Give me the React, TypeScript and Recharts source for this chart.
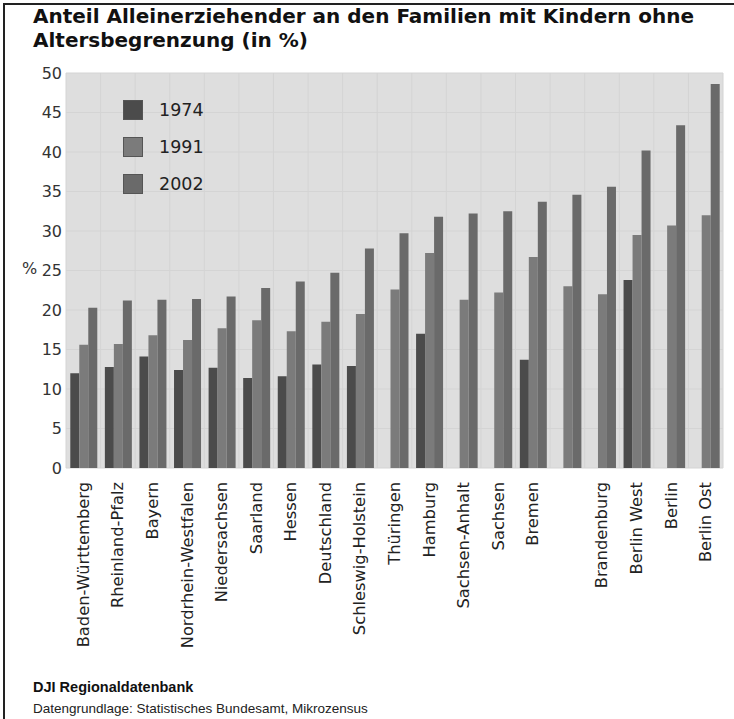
import { BarChart, Bar, XAxis, YAxis, CartesianGrid } from "recharts";

const regions = [
  "Baden-Württemberg",
  "Rheinland-Pfalz",
  "Bayern",
  "Nordrhein-Westfalen",
  "Niedersachsen",
  "Saarland",
  "Hessen",
  "Deutschland",
  "Schleswig-Holstein",
  "Thüringen",
  "Hamburg",
  "Sachsen-Anhalt",
  "Sachsen",
  "Bremen",
  "",
  "Brandenburg",
  "Berlin West",
  "Berlin",
  "Berlin Ost",
];

const v1974 = [12.0, 12.8, 14.1, 12.4, 12.7, 11.4, 11.6, 13.1, 12.9, null, 17.0, null, null, 13.7, null, null, 23.8, null, null];
const v1991 = [15.6, 15.7, 16.8, 16.2, 17.7, 18.7, 17.3, 18.5, 19.5, 22.6, 27.2, 21.3, 22.2, 26.7, 23.0, 22.0, 29.5, 30.7, 32.0];
const v2002 = [20.3, 21.2, 21.3, 21.4, 21.7, 22.8, 23.6, 24.7, 27.8, 29.7, 31.8, 32.2, 32.5, 33.7, 34.6, 35.6, 40.2, 43.4, 48.6];

const yTicks = [0, 5, 10, 15, 20, 25, 30, 35, 40, 45, 50];

const series = [
  { key: "y1974", name: "1974", color: "#4b4b4b" },
  { key: "y1991", name: "1991", color: "#7b7b7b" },
  { key: "y2002", name: "2002", color: "#6a6a6a" },
];

const data = regions.map((name, i) => ({
  name,
  y1974: v1974[i],
  y1991: v1991[i],
  y2002: v2002[i],
}));

const axisFont = "'DejaVu Sans', Verdana, sans-serif";

function RegionTick(props: any) {
  const { x, y, payload } = props;
  const ty = y + 6;
  return (
    <text
      x={x}
      y={ty}
      transform={`rotate(-90, ${x}, ${ty})`}
      textAnchor="end"
      dominantBaseline="central"
      fontFamily={axisFont}
      fontSize={16.3}
      fill="#222"
    >
      {payload.value}
    </text>
  );
}

function LegendBox() {
  return (
    <div
      style={{
        position: "absolute",
        left: 123,
        top: 91,
        fontFamily: axisFont,
        fontSize: 17.5,
        color: "#222",
      }}
    >
      {series.map((s) => (
        <div key={s.key} style={{ display: "flex", alignItems: "center", height: 37 }}>
          <div
            style={{
              width: 18,
              height: 18,
              background: s.color,
              border: "1px solid #555",
              marginRight: 16,
            }}
          />
          <span>{s.name}</span>
        </div>
      ))}
    </div>
  );
}

export default function App() {
  const n = regions.length;
  return (
    <div
      style={{
        position: "absolute",
        left: 0,
        top: 0,
        width: 734,
        height: 719,
        background: "#fff",
        overflow: "hidden",
      }}
    >
      <div style={{ position: "absolute", left: 3, top: 3, width: 731, height: 716, borderLeft: "2px solid #222", borderTop: "2px solid #222" }} />
      <div
        style={{
          position: "absolute",
          left: 33,
          top: 4,
          fontFamily: "'DejaVu Sans', Verdana, sans-serif",
          fontWeight: "bold",
          fontSize: 20,
          lineHeight: "24px",
          color: "#111",
          whiteSpace: "nowrap",
        }}
      >
        Anteil Alleinerziehender an den Familien mit Kindern ohne
        <br />
        Altersbegrenzung (in %)
      </div>
      <div
        style={{
          position: "absolute",
          left: 22,
          top: 259,
          fontFamily: axisFont,
          fontSize: 16,
          color: "#333",
        }}
      >
        %
      </div>
      <BarChart
        width={734}
        height={719}
        data={data}
        margin={{ top: 73, right: 11, left: 26, bottom: 91 }}
        barCategoryGap="12.4%"
        barGap={0}
      >
        <CartesianGrid
          fill="#dedede"
          stroke="#d4d4d4"
          verticalCoordinatesGenerator={({ offset }: any) =>
            Array.from({ length: n + 1 }, (_, i) => offset.left + (i * offset.width) / n)
          }
        />
        <XAxis
          dataKey="name"
          interval={0}
          height={160}
          tickLine={false}
          axisLine={false}
          tick={<RegionTick />}
        />
        <YAxis
          domain={[0, 50]}
          ticks={yTicks}
          width={40}
          tickLine={false}
          axisLine={false}
          tickSize={2}
          tickMargin={2}
          tick={{ fontFamily: axisFont, fontSize: 16, fill: "#333" }}
        />
        {series.map((s) => (
          <Bar key={s.key} dataKey={s.key} name={s.name} fill={s.color} isAnimationActive={false} />
        ))}
      </BarChart>
      <LegendBox />
      <div
        style={{
          position: "absolute",
          left: 33,
          top: 679,
          fontFamily: "'Liberation Sans', Arial, sans-serif",
          fontWeight: "bold",
          fontSize: 14.5,
          color: "#111",
        }}
      >
        DJI Regionaldatenbank
      </div>
      <div
        style={{
          position: "absolute",
          left: 33,
          top: 701,
          fontFamily: "'Liberation Sans', Arial, sans-serif",
          fontSize: 13.5,
          color: "#222",
        }}
      >
        Datengrundlage: Statistisches Bundesamt, Mikrozensus
      </div>
    </div>
  );
}
